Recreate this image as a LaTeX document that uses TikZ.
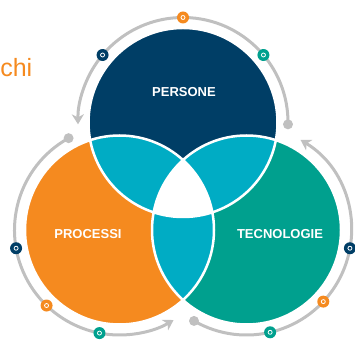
\documentclass[tikz,border=0pt]{standalone}
\usepackage{fontspec}
\setmainfont{Liberation Sans}
\usetikzlibrary{arrows.meta}
\definecolor{cblue}{RGB}{0,62,102}
\definecolor{corange}{RGB}{245,138,31}
\definecolor{cteal}{RGB}{0,160,142}
\definecolor{ccyan}{RGB}{0,172,196}
\definecolor{cgray}{RGB}{192,192,192}
\begin{document}
\begin{tikzpicture}[x=1pt,y=1pt,
  cyclearc/.style={draw=cgray, line width=3pt, -{Stealth[length=10pt,width=12pt,inset=3pt]}},
  enddot/.style={circle, fill=cgray, minimum size=10pt, inner sep=0pt},
  marker/.style={circle, fill=#1, minimum size=12pt, inner sep=0pt,
    path picture={\draw[white,line width=0.8pt] (path picture bounding box.center) circle (2pt);}},
  lbl/.style={text=white, font=\bfseries\fontsize{13}{15}\selectfont, inner sep=0pt},
  sep/.style={draw=white, line width=2.5pt}]
\useasboundingbox (0,0) rectangle (355,339);
\coordinate (cT) at (183,216.5);
\coordinate (cL) at (119.5,109);
\coordinate (cR) at (246.5,109);
\def\R{94.5}
\def\A{105}
% circles
\fill[cblue] (cT) circle (\R);
\fill[corange] (cL) circle (\R);
\fill[cteal] (cR) circle (\R);
\begin{scope}
  \clip (cT) circle (\R);
  \fill[ccyan] (cL) circle (\R);
  \fill[ccyan] (cR) circle (\R);
\end{scope}
\begin{scope}
  \clip (cL) circle (\R);
  \fill[ccyan] (cR) circle (\R);
\end{scope}
\begin{scope}
  \clip (cT) circle (\R);
  \clip (cL) circle (\R);
  \fill[white] (cR) circle (\R);
\end{scope}
\draw[sep] (cT) circle (\R);
\draw[sep] (cL) circle (\R);
\draw[sep] (cR) circle (\R);
% labels
\node[lbl] (persone) at (184,247) {PERSONE};
\node[lbl] (processi) at (88,105) {PROCESSI};
\node[lbl] (tecnologie) at (280,105) {TECNOLOGIE};
\node[text=corange, font=\fontsize{25}{28}\selectfont, anchor=base east, inner sep=0pt] (chi) at (32.5,262) {chi};
% cycle arcs
\draw[cyclearc] ([shift={(-1:\A)}]cT) arc[start angle=-1, end angle=181, radius=\A];
\draw[cyclearc] ([shift={(119:\A)}]cL) arc[start angle=119, end angle=301, radius=\A];
\draw[cyclearc] ([shift={(240:\A)}]cR) arc[start angle=240, end angle=419, radius=\A];
\node[enddot] (dT) at ([shift={(-1:\A)}]cT) {};
\node[enddot] (dL) at ([shift={(119:\A)}]cL) {};
\node[enddot] (dR) at ([shift={(240:\A)}]cR) {};
% markers
\node[marker=cteal] (m1) at ([shift={(40:\A)}]cT) {};
\node[marker=corange] (m2) at ([shift={(90:\A)}]cT) {};
\node[marker=cblue] (m3) at ([shift={(140:\A)}]cT) {};
\node[marker=cblue] (m4) at ([shift={(190:\A)}]cL) {};
\node[marker=corange] (m5) at ([shift={(226:\A)}]cL) {};
\node[marker=cteal] (m6) at ([shift={(259:\A)}]cL) {};
\node[marker=cteal] (m7) at ([shift={(283:\A)}]cR) {};
\node[marker=corange] (m8) at ([shift={(317:\A)}]cR) {};
\node[marker=cblue] (m9) at ([shift={(350:\A)}]cR) {};
\end{tikzpicture}
\end{document}
